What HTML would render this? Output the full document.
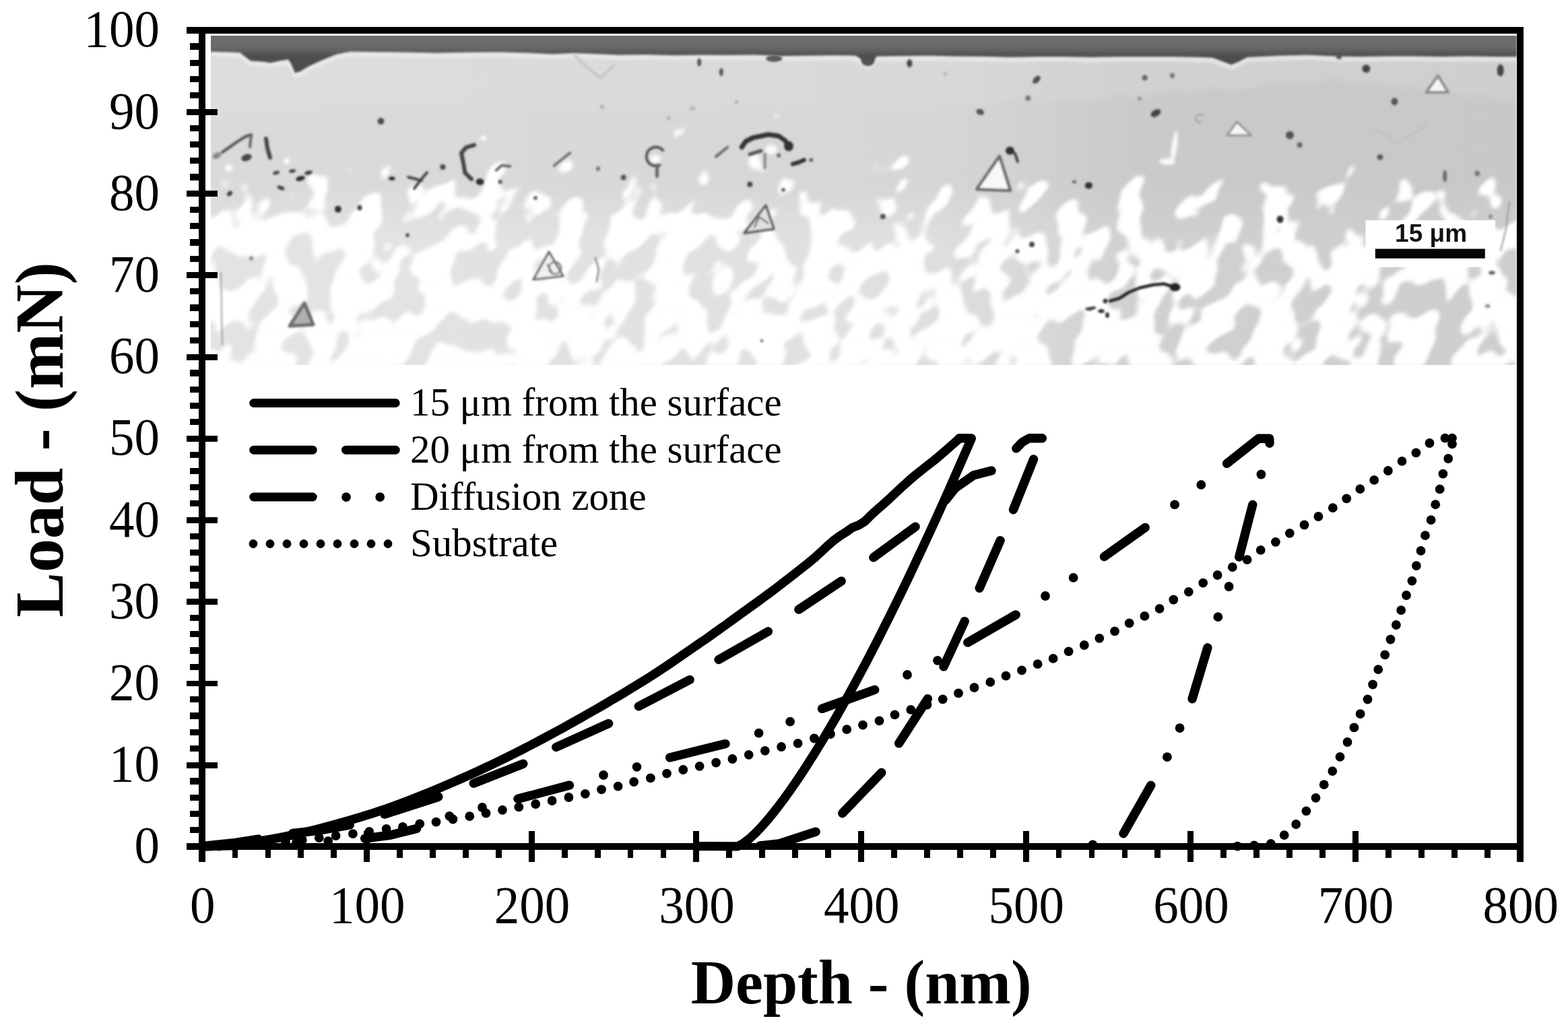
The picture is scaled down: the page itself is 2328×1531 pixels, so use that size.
<!DOCTYPE html>
<html lang="en"><head><meta charset="utf-8"><title>Load - Depth nanoindentation curves</title>
<style>html,body{margin:0;padding:0;background:#fff;}body{width:2328px;height:1531px;overflow:hidden;}svg{display:block;}text{font-family:"Liberation Serif","DejaVu Serif",serif;fill:#000;}</style>
</head><body>
<svg width="2328" height="1531" viewBox="0 0 2328 1531">
<rect x="0" y="0" width="2328" height="1531" fill="#fff"/>
<defs>
<clipPath id="mclip"><rect x="313.0" y="53.0" width="1938.5" height="489.0"/></clipPath>
<linearGradient id="mbias" gradientUnits="userSpaceOnUse" x1="400" y1="53.0" x2="390" y2="542.0"><stop offset="0" stop-color="#fff" stop-opacity="0.1"/><stop offset="0.3" stop-color="#fff" stop-opacity="0.16"/><stop offset="0.4" stop-color="#fff" stop-opacity="0.34"/><stop offset="0.5" stop-color="#fff" stop-opacity="0.48"/><stop offset="0.6" stop-color="#fff" stop-opacity="0.545"/><stop offset="1" stop-color="#fff" stop-opacity="0.565"/></linearGradient>
<filter id="mottle" filterUnits="userSpaceOnUse" x="308" y="51.0" width="2094" height="493.0" color-interpolation-filters="sRGB"><feTurbulence type="fractalNoise" baseFrequency="0.023 0.019" numOctaves="2" seed="5" result="t"/><feColorMatrix in="t" type="matrix" values="0 0 0 0 1  0 0 0 0 1  0 0 0 0 1  1 0 0 0 0" result="n"/><feComposite in="n" in2="SourceGraphic" operator="arithmetic" k1="0" k2="1" k3="1" k4="-0.5" result="sum"/><feComponentTransfer in="sum" result="mask"><feFuncA type="linear" slope="18" intercept="-8.5"/></feComponentTransfer><feGaussianBlur in="mask" stdDeviation="2.6"/></filter>
<linearGradient id="mbase" gradientUnits="userSpaceOnUse" x1="313.0" y1="0" x2="2251.5" y2="0"><stop offset="0" stop-color="#dddddd"/><stop offset="0.35" stop-color="#dadada"/><stop offset="0.56" stop-color="#d8d8d8"/><stop offset="0.70" stop-color="#d1d1d1"/><stop offset="0.85" stop-color="#d0d0d0"/><stop offset="1" stop-color="#cfcfcf"/></linearGradient>
<linearGradient id="mbase2" gradientUnits="userSpaceOnUse" x1="313.0" y1="0" x2="2251.5" y2="0"><stop offset="0" stop-color="#000" stop-opacity="0.010"/><stop offset="0.55" stop-color="#000" stop-opacity="0.008"/><stop offset="0.75" stop-color="#000" stop-opacity="0.036"/><stop offset="1" stop-color="#000" stop-opacity="0.036"/></linearGradient>
<linearGradient id="mlowx" gradientUnits="userSpaceOnUse" x1="313.0" y1="0" x2="2251.5" y2="0"><stop offset="0" stop-color="#fff" stop-opacity="0.17"/><stop offset="0.5" stop-color="#fff" stop-opacity="0.15"/><stop offset="0.72" stop-color="#fff" stop-opacity="0.0"/><stop offset="1" stop-color="#fff" stop-opacity="0"/></linearGradient>
<linearGradient id="mlowm" gradientUnits="userSpaceOnUse" x1="0" y1="53.0" x2="0" y2="542.0"><stop offset="0" stop-color="#000"/><stop offset="0.46" stop-color="#000"/><stop offset="0.62" stop-color="#fff"/><stop offset="1" stop-color="#fff"/></linearGradient>
<mask id="mlowmask" maskUnits="userSpaceOnUse" x="313.0" y="53.0" width="1938.5" height="489.0"><rect x="313.0" y="53.0" width="1938.5" height="489.0" fill="url(#mlowm)"/></mask>
<linearGradient id="mlow" gradientUnits="userSpaceOnUse" x1="0" y1="53.0" x2="0" y2="542.0"><stop offset="0" stop-color="#fff" stop-opacity="0"/><stop offset="0.45" stop-color="#fff" stop-opacity="0"/><stop offset="0.6" stop-color="#fff" stop-opacity="0.11"/><stop offset="1" stop-color="#fff" stop-opacity="0.12"/></linearGradient>
<linearGradient id="mband" gradientUnits="userSpaceOnUse" x1="0" y1="53" x2="0" y2="83"><stop offset="0" stop-color="#6e6e6e"/><stop offset="0.55" stop-color="#6a6a6a"/><stop offset="1" stop-color="#4e4e4e"/></linearGradient>
<filter id="mblur1" x="-5%" y="-5%" width="110%" height="110%"><feGaussianBlur stdDeviation="1.7"/></filter>
<filter id="mblur3" x="-5%" y="-5%" width="110%" height="110%"><feGaussianBlur stdDeviation="4.5"/></filter>
<filter id="mblur2" x="-5%" y="-5%" width="110%" height="110%"><feGaussianBlur stdDeviation="2.2"/></filter>
</defs>
<g id="micrograph" clip-path="url(#mclip)">
<rect x="313.0" y="53.0" width="1938.5" height="489.0" fill="url(#mbase)"/>
<g filter="url(#mblur3)"><path d="M308.0 547.0L308.0 166Q356.5 174.0 400.0 160.0Q450.0 169.0 500.0 156.0Q550.0 167.0 600.0 158.0Q650.0 167.0 700.0 152.0Q750.0 166.0 800.0 157.0Q850.0 171.0 900.0 162.0Q950.0 171.0 1000.0 160.0Q1050.0 169.0 1100.0 155.0Q1150.0 169.0 1200.0 160.0Q1250.0 169.0 1300.0 158.0Q1350.0 167.0 1400.0 156.0Q1450.0 165.0 1500.0 150.0Q1540.0 159.0 1580.0 146.0Q1620.0 155.0 1660.0 140.0Q1700.0 149.0 1740.0 134.0Q1770.0 143.0 1800.0 130.0Q1850.0 139.0 1900.0 120.0Q1940.0 129.0 1980.0 116.0Q2015.0 131.0 2050.0 122.0Q2075.0 137.0 2100.0 128.0Q2130.0 145.0 2160.0 136.0Q2180.0 149.0 2200.0 140.0Q2225.8 154.0 2251.5 145.0L2256.5 547.0Z" fill="url(#mbase2)"/></g>
<g filter="url(#mblur2)"><path d="M313.0 80.1L340.0 81.8L356.0 82.6L364.0 88.6L372.0 94.7L388.0 95.7L402.0 97.7L415.0 94.8L428.0 92.8L432.0 98.8L438.0 112.8L445.0 110.8L460.0 101.9L480.0 92.9L500.0 85.0L520.0 81.0L560.0 81.5L600.0 82.0L650.0 83.0L700.0 81.9L740.0 81.7L780.0 82.8L820.0 84.7L850.0 83.2L880.0 84.2L920.0 86.1L960.0 85.5L1000.0 86.6L1040.0 86.0L1080.0 86.3L1120.0 85.7L1160.0 87.6L1200.0 87.0L1240.0 86.5L1270.0 87.1L1280.0 93.1L1288.0 99.2L1296.0 95.2L1302.0 88.1L1340.0 87.5L1380.0 87.0L1420.0 88.0L1460.0 88.3L1500.0 89.3L1540.0 88.5L1580.0 88.5L1620.0 89.3L1660.0 88.5L1700.0 88.5L1740.0 88.5L1780.0 89.3L1800.0 90.1L1815.0 95.5L1828.0 100.5L1840.0 95.5L1852.0 89.3L1900.0 86.9L1940.0 86.1L1980.0 87.7L2020.0 88.5L2060.0 87.7L2100.0 87.7L2140.0 88.5L2180.0 87.7L2220.0 88.5L2251.5 88.5" fill="none" stroke="#f2f2f2" stroke-width="5" opacity="0.75"/></g>
<rect x="313.0" y="53.0" width="1938.5" height="489.0" fill="url(#mlow)"/>
<rect x="313.0" y="53.0" width="1938.5" height="489.0" fill="url(#mlowx)" mask="url(#mlowmask)"/>
<g transform="skewX(-15)"><rect x="308" y="51.0" width="2094" height="493.0" fill="url(#mbias)" filter="url(#mottle)"/></g>
<g filter="url(#mblur1)"><polygon points="308.0,48.0 308.0,76.5 340.0,77.3 356.0,78.1 364.0,84.1 372.0,90.2 388.0,91.2 402.0,93.2 415.0,90.3 428.0,88.3 432.0,94.3 438.0,108.3 445.0,106.3 460.0,97.4 480.0,88.4 500.0,80.5 520.0,76.5 560.0,77.0 600.0,77.5 650.0,78.5 700.0,77.4 740.0,77.2 780.0,78.3 820.0,80.2 850.0,78.7 880.0,79.7 920.0,81.6 960.0,81.0 1000.0,82.1 1040.0,81.5 1080.0,81.8 1120.0,81.2 1160.0,83.1 1200.0,82.5 1240.0,82.0 1270.0,82.6 1280.0,88.6 1288.0,94.7 1296.0,90.7 1302.0,83.6 1340.0,83.0 1380.0,82.5 1420.0,83.5 1460.0,83.8 1500.0,84.8 1540.0,84.0 1580.0,84.0 1620.0,84.8 1660.0,84.0 1700.0,84.0 1740.0,84.0 1780.0,84.8 1800.0,85.6 1815.0,91.0 1828.0,96.0 1840.0,91.0 1852.0,84.8 1900.0,82.4 1940.0,81.6 1980.0,83.2 2020.0,84.0 2060.0,83.2 2100.0,83.2 2140.0,84.0 2180.0,83.2 2220.0,84.0 2251.5,84.0 2256.5,84.5 2256.5,48.0" fill="url(#mband)"/></g>
<g filter="url(#mblur2)" fill="#fff" opacity="0.9">
<ellipse cx="339.5" cy="249.6" rx="6" ry="5" transform="rotate(0 339.5 249.6)"/>
<ellipse cx="425.4" cy="239.3" rx="4.5" ry="4.5" transform="rotate(0 425.4 239.3)"/>
<ellipse cx="717.8" cy="205" rx="5" ry="4" transform="rotate(0 717.8 205)"/>
<ellipse cx="973" cy="236" rx="8" ry="6" transform="rotate(0 973 236)"/>
<ellipse cx="1145" cy="222" rx="9" ry="7" transform="rotate(0 1145 222)"/>
<ellipse cx="1743.5" cy="218" rx="4" ry="24" transform="rotate(8 1743.5 218)"/>
<ellipse cx="1733" cy="240" rx="12" ry="5" transform="rotate(0 1733 240)"/>
</g>
<g filter="url(#mblur1)">
<polygon points="2134.9,112.5 2117.5,137.0 2150.0,137.0" fill="#f4f4f4" stroke="#8a8a8a" stroke-width="4" stroke-linejoin="round"/>
<polygon points="1836.3,181.0 1822.0,201.0 1857.5,201.0" fill="#f6f6f6" stroke="#9a9a9a" stroke-width="3.6" stroke-linejoin="round"/>
<polygon points="1484.0,232.0 1450.0,281.0 1500.0,283.0" fill="#f8f8f8" stroke="#6a6a6a" stroke-width="4.5" stroke-linejoin="round"/>
<polygon points="1137.0,305.0 1105.0,346.0 1149.0,340.0" fill="#e0e0e0" stroke="#555" stroke-width="3.4" stroke-linejoin="round"/>
<polygon points="815.0,374.0 792.0,415.0 836.0,410.0" fill="#f0f0f0" stroke="#666" stroke-width="3.2" stroke-linejoin="round"/>
<polygon points="452.0,450.0 430.0,484.0 465.0,482.0" fill="#b0b0b0" stroke="#6a6a6a" stroke-width="5" stroke-linejoin="round"/>
<path d="M1127 322L1120 338M1127 322L1141 332" stroke="#666" stroke-width="2.5" fill="none"/>
<path d="M812 392L820 405" stroke="#777" stroke-width="2.5" fill="none"/><circle cx="824" cy="398" r="9" fill="none" stroke="#777" stroke-width="2.5"/>
<circle cx="973.8" cy="232.4" r="14" fill="none" stroke="#555" stroke-width="4" stroke-dasharray="64.4 23.8" transform="rotate(60 973.8 232.4)"/>
<circle cx="1781.3" cy="175.7" r="6" fill="none" stroke="#aaa" stroke-width="3" stroke-dasharray="27.6 10.2" transform="rotate(60 1781.3 175.7)"/>
<path d="M330.0 226.0L350.0 212.0L364.0 203.0L373.0 200.0" fill="none" stroke="#555" stroke-width="4.2" stroke-linecap="round" stroke-linejoin="round"/>
<path d="M373.0 200.0L371.0 218.0" fill="none" stroke="#666" stroke-width="4" stroke-linecap="round" stroke-linejoin="round"/>
<path d="M395.0 206.0L397.0 220.0L401.0 234.0" fill="none" stroke="#444" stroke-width="6" stroke-linecap="round" stroke-linejoin="round"/>
<path d="M606.0 263.0L626.0 268.0" fill="none" stroke="#444" stroke-width="4" stroke-linecap="round" stroke-linejoin="round"/>
<path d="M634.0 256.0L624.0 268.0L615.0 280.0" fill="none" stroke="#444" stroke-width="4" stroke-linecap="round" stroke-linejoin="round"/>
<path d="M851.8 81.2L872.0 100.0L891.3 115.6" fill="none" stroke="#c2c2c2" stroke-width="3" stroke-linecap="round" stroke-linejoin="round"/>
<path d="M891.3 115.6L912.0 96.7" fill="none" stroke="#c4c4c4" stroke-width="3" stroke-linecap="round" stroke-linejoin="round"/>
<path d="M704.0 215.3L692.0 219.0L685.0 227.3L688.0 242.0L690.3 256.5L700.0 266.0" fill="none" stroke="#444" stroke-width="6" stroke-linecap="round" stroke-linejoin="round"/>
<path d="M736.7 253.0L745.0 245.5L757.3 247.0" fill="none" stroke="#666" stroke-width="4" stroke-linecap="round" stroke-linejoin="round"/>
<path d="M822.6 246.2L836.0 235.0L846.5 227.0" fill="none" stroke="#6a6a6a" stroke-width="3.5" stroke-linecap="round" stroke-linejoin="round"/>
<path d="M975.5 246.0L975.5 261.6" fill="none" stroke="#666" stroke-width="5" stroke-linecap="round" stroke-linejoin="round"/>
<path d="M1063.0 232.4L1080.0 218.7" fill="none" stroke="#666" stroke-width="4" stroke-linecap="round" stroke-linejoin="round"/>
<path d="M1101.2 218.7L1107.0 210.0L1118.0 204.5L1140.8 199.8L1156.0 202.0L1166.0 209.0L1171.7 218.7" fill="none" stroke="#333" stroke-width="7" stroke-linecap="round" stroke-linejoin="round"/>
<path d="M1113.0 229.0L1130.0 224.0" fill="none" stroke="#555" stroke-width="5" stroke-linecap="round" stroke-linejoin="round"/>
<path d="M1135.6 229.0L1135.6 249.6" fill="none" stroke="#888" stroke-width="4" stroke-linecap="round" stroke-linejoin="round"/>
<path d="M1176.8 243.6L1186.0 241.0L1194.0 237.6" fill="none" stroke="#333" stroke-width="6" stroke-linecap="round" stroke-linejoin="round"/>
<path d="M1499.5 223.8L1507.0 228.0L1511.0 240.0" fill="none" stroke="#444" stroke-width="4" stroke-linecap="round" stroke-linejoin="round"/>
<path d="M1613.6 458.8L1625.0 457.0" fill="none" stroke="#333" stroke-width="4" stroke-linecap="round" stroke-linejoin="round"/>
<path d="M1648.0 447.0L1662.0 443.0L1676.0 434.0L1692.0 427.5L1712.0 423.0L1728.0 421.5L1744.6 426.6" fill="none" stroke="#222" stroke-width="4.5" stroke-linecap="round" stroke-linejoin="round"/>
<path d="M328.0 405.0L329.0 460.0L330.0 512.5" fill="none" stroke="#8a8a8a" stroke-width="1.6" stroke-linecap="round" stroke-linejoin="round"/>
<path d="M884.0 383.0L889.0 400.0L886.0 418.0" fill="none" stroke="#9a9a9a" stroke-width="3" stroke-linecap="round" stroke-linejoin="round"/>
<path d="M2040.0 190.0L2075.0 212.0L2118.0 186.0" fill="none" stroke="#bcbcbc" stroke-width="2" stroke-linecap="round" stroke-linejoin="round"/>
<path d="M2241.0 300.0L2236.0 340.0L2228.0 372.0" fill="none" stroke="#999" stroke-width="2" stroke-linecap="round" stroke-linejoin="round"/>
<ellipse cx="565.5" cy="180" rx="5" ry="5" fill="#505050"/>
<ellipse cx="322" cy="231" rx="7" ry="4.5" fill="#8a8a8a" transform="rotate(-25 322 231)"/>
<ellipse cx="366" cy="234" rx="8" ry="5" fill="#4a4a4a" transform="rotate(-20 366 234)"/>
<ellipse cx="410" cy="256.5" rx="5" ry="2.6" fill="#444" transform="rotate(-15 410 256.5)"/>
<ellipse cx="434" cy="254" rx="5" ry="2.6" fill="#444" transform="rotate(-10 434 254)"/>
<ellipse cx="446" cy="265" rx="7" ry="3.6" fill="#333" transform="rotate(-15 446 265)"/>
<ellipse cx="458" cy="256.5" rx="6" ry="3" fill="#444" transform="rotate(-15 458 256.5)"/>
<ellipse cx="417" cy="279" rx="6" ry="3" fill="#444" transform="rotate(20 417 279)"/>
<ellipse cx="341" cy="287.4" rx="4.5" ry="3.2" fill="#404040" transform="rotate(-45 341 287.4)"/>
<ellipse cx="581.8" cy="265" rx="5" ry="3" fill="#333"/>
<ellipse cx="657.4" cy="248" rx="4" ry="4" fill="#444"/>
<ellipse cx="1038.2" cy="92.4" rx="3" ry="6" fill="#555"/>
<ellipse cx="1070.9" cy="107" rx="3" ry="6" fill="#555"/>
<ellipse cx="894" cy="158.6" rx="3" ry="3" fill="#b0b0b0"/>
<ellipse cx="1028" cy="161" rx="4" ry="3" fill="#b4b4b4"/>
<ellipse cx="992.7" cy="175.7" rx="3" ry="3" fill="#b4b4b4"/>
<ellipse cx="712.6" cy="270" rx="6" ry="5" fill="#333"/>
<ellipse cx="742.7" cy="270" rx="3" ry="3" fill="#555"/>
<ellipse cx="888" cy="250.5" rx="3" ry="3.5" fill="#777"/>
<ellipse cx="925.7" cy="263.4" rx="4" ry="4" fill="#555"/>
<ellipse cx="795" cy="294" rx="3" ry="3" fill="#666"/>
<ellipse cx="1149.3" cy="87" rx="12" ry="5" fill="#5a5a5a"/>
<ellipse cx="1288.5" cy="90" rx="10" ry="8" fill="#505050"/>
<ellipse cx="1350.4" cy="94.1" rx="4" ry="6" fill="#444"/>
<ellipse cx="1455.2" cy="166.3" rx="6" ry="4.2" fill="#555" transform="rotate(20 1455.2 166.3)"/>
<ellipse cx="1093.5" cy="151.7" rx="3" ry="3" fill="#b4b4b4"/>
<ellipse cx="1403.6" cy="109.6" rx="3" ry="3" fill="#b8b8b8"/>
<ellipse cx="1171" cy="217" rx="7" ry="7.5" fill="#333"/>
<ellipse cx="1156.2" cy="230.7" rx="3" ry="3" fill="#666"/>
<ellipse cx="1204.3" cy="237.6" rx="3" ry="3" fill="#666"/>
<ellipse cx="1113.3" cy="273.7" rx="4" ry="4" fill="#444"/>
<ellipse cx="1163" cy="282" rx="3" ry="3" fill="#666"/>
<ellipse cx="1539" cy="118.2" rx="7" ry="4.2" fill="#505050" transform="rotate(-45 1539 118.2)"/>
<ellipse cx="1526.2" cy="145.7" rx="4" ry="4" fill="#777"/>
<ellipse cx="1699.7" cy="115.6" rx="4" ry="4" fill="#666"/>
<ellipse cx="1740.4" cy="112.2" rx="3.4" ry="4" fill="#777"/>
<ellipse cx="1692" cy="146.5" rx="3" ry="3" fill="#9a9a9a"/>
<ellipse cx="1716" cy="168" rx="8" ry="5" fill="#444" transform="rotate(-30 1716 168)"/>
<ellipse cx="1499.5" cy="223.8" rx="6.5" ry="6" fill="#333"/>
<ellipse cx="1616.4" cy="275.4" rx="5.5" ry="5" fill="#333"/>
<ellipse cx="1595" cy="270" rx="3" ry="2.5" fill="#666"/>
<ellipse cx="2028.4" cy="101.9" rx="6" ry="6" fill="#444"/>
<ellipse cx="2227.7" cy="104.4" rx="5" ry="9" fill="#444"/>
<ellipse cx="2070.5" cy="150.8" rx="5" ry="5.5" fill="#555"/>
<ellipse cx="1915" cy="200.7" rx="6" ry="6" fill="#555"/>
<ellipse cx="1929.6" cy="215.3" rx="4" ry="4" fill="#666"/>
<ellipse cx="2049" cy="233.3" rx="4.5" ry="4" fill="#555"/>
<ellipse cx="2145.2" cy="261.6" rx="3" ry="9" fill="#6a6a6a"/>
<ellipse cx="2193.3" cy="257.4" rx="4" ry="4" fill="#777"/>
<ellipse cx="1988" cy="84" rx="4" ry="4" fill="#555"/>
<ellipse cx="501.9" cy="310.6" rx="5" ry="5" fill="#333"/>
<ellipse cx="534" cy="308.5" rx="3.5" ry="4" fill="#444"/>
<ellipse cx="605" cy="349.3" rx="3" ry="3" fill="#555"/>
<ellipse cx="373" cy="383.6" rx="3" ry="3" fill="#888"/>
<ellipse cx="1310.8" cy="321.4" rx="4" ry="4" fill="#555"/>
<ellipse cx="1532" cy="363" rx="4" ry="4" fill="#444"/>
<ellipse cx="1510.5" cy="373" rx="3" ry="3" fill="#555"/>
<ellipse cx="1900.6" cy="325.7" rx="5" ry="5.5" fill="#333"/>
<ellipse cx="1744.6" cy="426.6" rx="8" ry="6" fill="#222"/>
<ellipse cx="1635" cy="462" rx="5" ry="3" fill="#333"/>
<ellipse cx="1641" cy="447" rx="3.5" ry="3.5" fill="#333"/>
<ellipse cx="1644" cy="468" rx="3" ry="4" fill="#333"/>
<ellipse cx="1618" cy="459" rx="4" ry="2.5" fill="#444"/>
<ellipse cx="2212.9" cy="321.4" rx="3" ry="3" fill="#888"/>
<ellipse cx="2208.6" cy="454.5" rx="4" ry="3" fill="#999"/>
<ellipse cx="1131" cy="506" rx="2.2" ry="2.2" fill="#666"/>
<ellipse cx="2215" cy="405" rx="5" ry="3" fill="#666"/>
</g>
<g id="scalebar">
<rect x="2027.4" y="327" width="192.6" height="69.6" fill="#fff"/>
<rect x="2041.8" y="369.5" width="163" height="14.2" fill="#050505"/>
<text x="2124.6" y="359.4" text-anchor="middle" style="font-family:'Liberation Sans',Arial,sans-serif;font-weight:bold;font-size:37px;fill:#111">15 μm</text>
</g>
</g>
<g id="axes" fill="#000" stroke="none" shape-rendering="crispEdges">
<rect x="295.3" y="40.0" width="1966.6" height="9.8"/>
<rect x="295.3" y="1251.9" width="1966.6" height="9.8"/>
<rect x="295.3" y="40.0" width="9.8" height="1240.0"/>
<rect x="2252.1" y="40.0" width="9.8" height="1240.0"/>
<rect x="277" y="1251.9" width="30" height="9.8"/>
<rect x="282.3" y="1228.1" width="14" height="9.2"/>
<rect x="282.3" y="1203.8" width="14" height="9.2"/>
<rect x="282.3" y="1179.6" width="14" height="9.2"/>
<rect x="282.3" y="1155.3" width="14" height="9.2"/>
<rect x="277" y="1131.7" width="46" height="8.9"/>
<rect x="282.3" y="1106.8" width="14" height="9.2"/>
<rect x="282.3" y="1082.6" width="14" height="9.2"/>
<rect x="282.3" y="1058.4" width="14" height="9.2"/>
<rect x="282.3" y="1034.1" width="14" height="9.2"/>
<rect x="277" y="1010.5" width="46" height="8.9"/>
<rect x="282.3" y="985.6" width="14" height="9.2"/>
<rect x="282.3" y="961.4" width="14" height="9.2"/>
<rect x="282.3" y="937.2" width="14" height="9.2"/>
<rect x="282.3" y="912.9" width="14" height="9.2"/>
<rect x="277" y="889.3" width="46" height="8.9"/>
<rect x="282.3" y="864.4" width="14" height="9.2"/>
<rect x="282.3" y="840.2" width="14" height="9.2"/>
<rect x="282.3" y="815.9" width="14" height="9.2"/>
<rect x="282.3" y="791.7" width="14" height="9.2"/>
<rect x="277" y="768.1" width="46" height="8.9"/>
<rect x="282.3" y="743.2" width="14" height="9.2"/>
<rect x="282.3" y="719.0" width="14" height="9.2"/>
<rect x="282.3" y="694.7" width="14" height="9.2"/>
<rect x="282.3" y="670.5" width="14" height="9.2"/>
<rect x="277" y="646.9" width="46" height="8.9"/>
<rect x="282.3" y="622.0" width="14" height="9.2"/>
<rect x="282.3" y="597.8" width="14" height="9.2"/>
<rect x="282.3" y="573.5" width="14" height="9.2"/>
<rect x="282.3" y="549.3" width="14" height="9.2"/>
<rect x="277" y="525.6" width="46" height="8.9"/>
<rect x="282.3" y="500.8" width="14" height="9.2"/>
<rect x="282.3" y="476.6" width="14" height="9.2"/>
<rect x="282.3" y="452.3" width="14" height="9.2"/>
<rect x="282.3" y="428.1" width="14" height="9.2"/>
<rect x="277" y="404.4" width="46" height="8.9"/>
<rect x="282.3" y="379.6" width="14" height="9.2"/>
<rect x="282.3" y="355.3" width="14" height="9.2"/>
<rect x="282.3" y="331.1" width="14" height="9.2"/>
<rect x="282.3" y="306.9" width="14" height="9.2"/>
<rect x="277" y="283.2" width="46" height="8.9"/>
<rect x="282.3" y="258.4" width="14" height="9.2"/>
<rect x="282.3" y="234.1" width="14" height="9.2"/>
<rect x="282.3" y="209.9" width="14" height="9.2"/>
<rect x="282.3" y="185.7" width="14" height="9.2"/>
<rect x="277" y="162.0" width="46" height="8.9"/>
<rect x="282.3" y="137.2" width="14" height="9.2"/>
<rect x="282.3" y="112.9" width="14" height="9.2"/>
<rect x="282.3" y="88.7" width="14" height="9.2"/>
<rect x="282.3" y="64.4" width="14" height="9.2"/>
<rect x="277" y="40.0" width="30" height="9.8"/>
<rect x="344.5" y="1260" width="8.8" height="13.8"/>
<rect x="393.5" y="1260" width="8.8" height="13.8"/>
<rect x="442.4" y="1260" width="8.8" height="13.8"/>
<rect x="491.3" y="1260" width="8.8" height="13.8"/>
<rect x="540.1" y="1234" width="9" height="46"/>
<rect x="589.1" y="1260" width="8.8" height="13.8"/>
<rect x="638.1" y="1260" width="8.8" height="13.8"/>
<rect x="687.0" y="1260" width="8.8" height="13.8"/>
<rect x="735.9" y="1260" width="8.8" height="13.8"/>
<rect x="784.8" y="1234" width="9" height="46"/>
<rect x="833.8" y="1260" width="8.8" height="13.8"/>
<rect x="882.7" y="1260" width="8.8" height="13.8"/>
<rect x="931.6" y="1260" width="8.8" height="13.8"/>
<rect x="980.6" y="1260" width="8.8" height="13.8"/>
<rect x="1029.4" y="1234" width="9" height="46"/>
<rect x="1078.4" y="1260" width="8.8" height="13.8"/>
<rect x="1127.3" y="1260" width="8.8" height="13.8"/>
<rect x="1176.2" y="1260" width="8.8" height="13.8"/>
<rect x="1225.2" y="1260" width="8.8" height="13.8"/>
<rect x="1274.0" y="1234" width="9" height="46"/>
<rect x="1323.0" y="1260" width="8.8" height="13.8"/>
<rect x="1371.9" y="1260" width="8.8" height="13.8"/>
<rect x="1420.9" y="1260" width="8.8" height="13.8"/>
<rect x="1469.8" y="1260" width="8.8" height="13.8"/>
<rect x="1518.6" y="1234" width="9" height="46"/>
<rect x="1567.6" y="1260" width="8.8" height="13.8"/>
<rect x="1616.6" y="1260" width="8.8" height="13.8"/>
<rect x="1665.5" y="1260" width="8.8" height="13.8"/>
<rect x="1714.4" y="1260" width="8.8" height="13.8"/>
<rect x="1763.2" y="1234" width="9" height="46"/>
<rect x="1812.3" y="1260" width="8.8" height="13.8"/>
<rect x="1861.2" y="1260" width="8.8" height="13.8"/>
<rect x="1910.1" y="1260" width="8.8" height="13.8"/>
<rect x="1959.0" y="1260" width="8.8" height="13.8"/>
<rect x="2007.9" y="1234" width="9" height="46"/>
<rect x="2056.9" y="1260" width="8.8" height="13.8"/>
<rect x="2105.8" y="1260" width="8.8" height="13.8"/>
<rect x="2154.8" y="1260" width="8.8" height="13.8"/>
<rect x="2203.7" y="1260" width="8.8" height="13.8"/>
</g>
<g id="ticklabels" font-size="75px">
<text transform="translate(237,1281.4) scale(1,1.034)" text-anchor="end">0</text>
<text transform="translate(237,1160.2) scale(1,1.034)" text-anchor="end">10</text>
<text transform="translate(237,1039.0) scale(1,1.034)" text-anchor="end">20</text>
<text transform="translate(237,917.8) scale(1,1.034)" text-anchor="end">30</text>
<text transform="translate(237,796.6) scale(1,1.034)" text-anchor="end">40</text>
<text transform="translate(237,675.4) scale(1,1.034)" text-anchor="end">50</text>
<text transform="translate(237,554.1) scale(1,1.034)" text-anchor="end">60</text>
<text transform="translate(237,432.9) scale(1,1.034)" text-anchor="end">70</text>
<text transform="translate(237,311.7) scale(1,1.034)" text-anchor="end">80</text>
<text transform="translate(237,190.5) scale(1,1.034)" text-anchor="end">90</text>
<text transform="translate(237,69.3) scale(1,1.034)" text-anchor="end">100</text>
<text transform="translate(300.7,1369.9) scale(1,1.034)" text-anchor="middle">0</text>
<text transform="translate(545.3,1369.9) scale(1,1.034)" text-anchor="middle">100</text>
<text transform="translate(790.0,1369.9) scale(1,1.034)" text-anchor="middle">200</text>
<text transform="translate(1034.6,1369.9) scale(1,1.034)" text-anchor="middle">300</text>
<text transform="translate(1279.2,1369.9) scale(1,1.034)" text-anchor="middle">400</text>
<text transform="translate(1523.8,1369.9) scale(1,1.034)" text-anchor="middle">500</text>
<text transform="translate(1768.5,1369.9) scale(1,1.034)" text-anchor="middle">600</text>
<text transform="translate(2013.1,1369.9) scale(1,1.034)" text-anchor="middle">700</text>
<text transform="translate(2257.7,1369.9) scale(1,1.034)" text-anchor="middle">800</text>
</g>
<text id="xtitle" transform="translate(1278.6,1490) scale(1,1.012)" text-anchor="middle" font-size="92px" font-weight="bold">Depth - (nm)</text>
<text id="ytitle" transform="translate(93,653) rotate(-90) scale(1.01,1.03)" text-anchor="middle" font-size="99px" font-weight="bold">Load - (mN)</text>
<g id="legend" stroke="#000" stroke-width="13" stroke-linecap="round" fill="none">
<path d="M376.7 598.5H587.2"/>
<path d="M376.7 668.2H464.2M513.5 668.2H587.2"/>
<path d="M376.7 738H464.2"/>
</g>
<g id="legend-dots" fill="#000">
<circle cx="514" cy="738.1" r="6.9"/><circle cx="564.2" cy="738.1" r="6.9"/>
<circle cx="376.0" cy="807.5" r="6.4"/>
<circle cx="401.0" cy="807.5" r="6.4"/>
<circle cx="426.0" cy="807.5" r="6.4"/>
<circle cx="451.0" cy="807.5" r="6.4"/>
<circle cx="476.0" cy="807.5" r="6.4"/>
<circle cx="501.0" cy="807.5" r="6.4"/>
<circle cx="526.0" cy="807.5" r="6.4"/>
<circle cx="551.0" cy="807.5" r="6.4"/>
<circle cx="576.0" cy="807.5" r="6.4"/>
</g>
<g id="legendtext" font-size="58.9px">
<text x="609" y="617.3">15 μm from the surface</text>
<text x="609" y="686.9">20 μm from the surface</text>
<text x="609" y="756.5">Diffusion zone</text>
<text x="609" y="826.1">Substrate</text>
</g>
<g id="curves" fill="none" stroke="#000" stroke-width="13.4" stroke-linecap="round" stroke-linejoin="round">
<path id="c15" d="M300.0 1256.9L309.4 1256.7L318.7 1256.3L328.1 1255.6L337.5 1254.9L346.9 1254.0L356.2 1252.9L365.6 1251.8L375.0 1250.5L384.3 1249.1L393.7 1247.6L403.1 1246.0L412.5 1244.3L421.8 1242.5L431.2 1240.6L440.6 1238.6L449.9 1236.5L459.3 1234.2L468.7 1231.9L478.1 1229.5L487.4 1227.0L496.8 1224.4L506.2 1221.8L515.5 1219.1L524.9 1216.4L534.3 1213.6L543.7 1210.7L553.0 1207.8L562.4 1204.7L571.8 1201.5L581.1 1198.2L590.5 1194.8L599.9 1191.3L609.2 1187.7L618.6 1184.1L628.0 1180.3L637.4 1176.5L646.7 1172.7L656.1 1168.7L665.5 1164.7L674.8 1160.6L684.2 1156.5L693.6 1152.3L703.0 1148.1L712.3 1143.8L721.7 1139.4L731.1 1135.0L740.4 1130.4L749.8 1125.9L759.2 1121.2L768.6 1116.5L777.9 1111.7L787.3 1106.9L796.7 1102.0L806.0 1097.0L815.4 1092.0L824.8 1086.9L834.2 1081.8L843.5 1076.6L852.9 1071.4L862.3 1066.1L871.6 1060.8L881.0 1055.5L890.4 1050.1L899.8 1044.6L909.1 1039.1L918.5 1033.6L927.9 1027.9L937.2 1022.2L946.6 1016.5L956.0 1010.7L965.4 1004.8L974.7 998.8L984.1 992.7L993.5 986.4L1002.8 980.0L1012.2 973.5L1021.6 967.0L1031.0 960.5L1040.3 954.1L1049.7 947.7L1059.1 941.0L1068.4 934.3L1077.8 927.6L1087.2 920.8L1096.5 914.0L1105.9 907.3L1115.3 900.5L1124.7 893.7L1134.0 886.9L1143.4 880.0L1152.8 873.0L1162.1 865.8L1171.5 858.5L1180.9 851.2L1190.3 843.8L1199.6 836.5L1209.0 828.7L1218.4 820.1L1227.7 811.4L1237.1 803.2L1246.5 796.2L1255.9 790.2L1265.2 783.6L1274.6 780.0L1284.0 774.3L1293.3 764.9L1302.7 756.4L1312.1 748.2L1321.5 739.6L1330.8 730.9L1340.2 722.2L1349.6 713.7L1358.9 705.7L1368.3 698.1L1377.7 690.8L1387.1 683.5L1396.4 675.7L1405.8 667.5L1415.2 659.2L1424.5 650.9"/>
<path id="c15u" d="M1424.4 650.8L1442.4 650.9L1433.7 670.9L1425.0 690.8L1416.3 710.5L1407.7 730.1L1399.0 749.5L1390.3 768.7L1381.6 787.7L1372.9 806.5L1364.2 825.1L1355.6 843.5L1346.9 861.8L1338.2 879.8L1329.5 897.6L1320.8 915.2L1312.1 932.5L1303.5 949.7L1294.8 966.6L1286.1 983.3L1277.4 999.7L1268.7 1015.8L1260.0 1031.7L1251.3 1047.4L1242.7 1062.7L1234.0 1077.7L1225.3 1092.5L1216.6 1106.9L1207.9 1121.0L1199.2 1134.7L1190.6 1148.1L1181.9 1161.0L1173.2 1173.5L1164.5 1185.6L1155.8 1197.2L1147.1 1208.3L1138.5 1218.8L1129.8 1228.6L1121.1 1237.6L1112.4 1245.6L1103.7 1252.4L1095.0 1256.9L1060.0 1256.6L1038.7 1256.6"/>
<path id="c20" d="M306.7 1255.8L345.0 1252.0L383.4 1246.0M434.7 1237.3L476.0 1233.0L519.2 1224.9M570.9 1209.1L650.9 1183.3M703.2 1163.2L776.8 1134.2M825.7 1109.5L903.6 1074.4M948.3 1048.9L1024.1 1009.4M1067.1 979.5L1140.4 937.8M1185.9 905.1L1249.2 862.9M1296.8 827.8L1359.1 782.2M1404.1 742.7L1418.0 725.0L1445.5 705.7L1472.0 699.0M1508.8 665.9L1517.6 656.8L1528.1 650.8L1547.4 650.8M1534.5 681.9L1504.5 756.8M1485.1 802.6L1454.2 873.4M1432.2 922.6L1401.0 989.9M1377.4 1037.6L1334.6 1103.9M1308.8 1147.3L1250.7 1207.7M1211.1 1235.1L1156.0 1253.0L1128.5 1255.8"/>
<path id="cdz" d="M306.7 1256.6L350.0 1255.5L388.3 1253.8M541.6 1245.1L580.0 1240.0L618.5 1230.6M769.0 1186.3L845.5 1166.1M994.6 1124.9L1077.0 1104.6M1220.5 1052.4L1298.7 1024.3M1436.8 954.1L1508.2 912.9M1639.4 826.6L1700.2 783.4M1821.6 688.3L1868.5 651.2L1884.7 651.2L1885.0 658.3M1859.8 749.4L1839.7 827.1M1792.9 961.8L1770.1 1037.8M1708.7 1166.3L1668.0 1237.8"/>
</g>
<g id="dots" fill="#000">
<circle cx="440.0" cy="1251.0" r="6.9"/>
<circle cx="487.2" cy="1248.8" r="6.9"/>
<circle cx="667.3" cy="1211.8" r="6.9"/>
<circle cx="716.0" cy="1199.0" r="6.9"/>
<circle cx="896.0" cy="1151.0" r="6.9"/>
<circle cx="945.5" cy="1138.8" r="6.9"/>
<circle cx="1126.6" cy="1088.6" r="6.9"/>
<circle cx="1173.1" cy="1071.7" r="6.9"/>
<circle cx="1347.0" cy="1002.0" r="6.9"/>
<circle cx="1392.0" cy="980.8" r="6.9"/>
<circle cx="1552.0" cy="885.0" r="6.9"/>
<circle cx="1593.6" cy="857.9" r="6.9"/>
<circle cx="1744.1" cy="749.4" r="6.9"/>
<circle cx="1783.3" cy="719.9" r="6.9"/>
<circle cx="1872.4" cy="704.5" r="6.9"/>
<circle cx="1824.6" cy="871.0" r="6.9"/>
<circle cx="1808.4" cy="916.2" r="6.9"/>
<circle cx="1751.6" cy="1081.1" r="6.9"/>
<circle cx="1732.9" cy="1124.2" r="6.9"/>
<circle cx="1622.4" cy="1254.5" r="6.9"/>
<circle cx="325.0" cy="1256.5" r="6.9"/>
<circle cx="349.7" cy="1255.5" r="6.9"/>
<circle cx="374.4" cy="1254.0" r="6.9"/>
<circle cx="399.2" cy="1252.0" r="6.9"/>
<circle cx="424.0" cy="1249.8" r="6.9"/>
<circle cx="448.8" cy="1247.2" r="6.9"/>
<circle cx="473.8" cy="1244.1" r="6.9"/>
<circle cx="498.6" cy="1241.0" r="6.9"/>
<circle cx="523.9" cy="1238.1" r="6.9"/>
<circle cx="548.2" cy="1235.0" r="6.9"/>
<circle cx="573.6" cy="1231.0" r="6.9"/>
<circle cx="597.9" cy="1228.0" r="6.9"/>
<circle cx="623.2" cy="1223.4" r="6.9"/>
<circle cx="647.5" cy="1220.6" r="6.9"/>
<circle cx="672.4" cy="1216.5" r="6.9"/>
<circle cx="697.2" cy="1212.2" r="6.9"/>
<circle cx="721.5" cy="1207.5" r="6.9"/>
<circle cx="746.0" cy="1202.8" r="6.9"/>
<circle cx="770.3" cy="1198.4" r="6.9"/>
<circle cx="795.2" cy="1194.0" r="6.9"/>
<circle cx="819.6" cy="1189.0" r="6.9"/>
<circle cx="844.4" cy="1184.0" r="6.9"/>
<circle cx="868.9" cy="1178.8" r="6.9"/>
<circle cx="893.0" cy="1172.3" r="6.9"/>
<circle cx="917.6" cy="1167.6" r="6.9"/>
<circle cx="941.1" cy="1161.0" r="6.9"/>
<circle cx="965.9" cy="1155.3" r="6.9"/>
<circle cx="990.0" cy="1148.7" r="6.9"/>
<circle cx="1014.3" cy="1143.0" r="6.9"/>
<circle cx="1038.6" cy="1137.8" r="6.9"/>
<circle cx="1063.1" cy="1132.5" r="6.9"/>
<circle cx="1087.4" cy="1127.0" r="6.9"/>
<circle cx="1111.7" cy="1120.8" r="6.9"/>
<circle cx="1135.8" cy="1114.8" r="6.9"/>
<circle cx="1160.1" cy="1109.0" r="6.9"/>
<circle cx="1184.6" cy="1103.8" r="6.9"/>
<circle cx="1208.9" cy="1096.5" r="6.9"/>
<circle cx="1233.0" cy="1090.0" r="6.9"/>
<circle cx="1257.2" cy="1083.2" r="6.9"/>
<circle cx="1281.0" cy="1076.6" r="6.9"/>
<circle cx="1305.5" cy="1070.4" r="6.9"/>
<circle cx="1328.5" cy="1061.4" r="6.9"/>
<circle cx="1352.3" cy="1053.8" r="6.9"/>
<circle cx="1376.5" cy="1046.5" r="6.9"/>
<circle cx="1399.7" cy="1038.3" r="6.9"/>
<circle cx="1423.0" cy="1029.3" r="6.9"/>
<circle cx="1446.5" cy="1021.0" r="6.9"/>
<circle cx="1470.3" cy="1012.9" r="6.9"/>
<circle cx="1493.5" cy="1003.7" r="6.9"/>
<circle cx="1517.0" cy="995.4" r="6.9"/>
<circle cx="1540.6" cy="986.2" r="6.9"/>
<circle cx="1563.6" cy="977.9" r="6.9"/>
<circle cx="1586.6" cy="967.4" r="6.9"/>
<circle cx="1609.8" cy="958.0" r="6.9"/>
<circle cx="1632.3" cy="947.8" r="6.9"/>
<circle cx="1655.0" cy="937.4" r="6.9"/>
<circle cx="1676.7" cy="925.3" r="6.9"/>
<circle cx="1699.4" cy="914.9" r="6.9"/>
<circle cx="1721.6" cy="903.9" r="6.9"/>
<circle cx="1742.3" cy="890.5" r="6.9"/>
<circle cx="1764.8" cy="878.8" r="6.9"/>
<circle cx="1786.2" cy="865.7" r="6.9"/>
<circle cx="1807.6" cy="854.0" r="6.9"/>
<circle cx="1829.8" cy="842.2" r="6.9"/>
<circle cx="1851.6" cy="831.2" r="6.9"/>
<circle cx="1871.7" cy="816.9" r="6.9"/>
<circle cx="1893.9" cy="804.8" r="6.9"/>
<circle cx="1914.8" cy="791.8" r="6.9"/>
<circle cx="1936.5" cy="779.5" r="6.9"/>
<circle cx="1957.4" cy="767.0" r="6.9"/>
<circle cx="1978.8" cy="754.2" r="6.9"/>
<circle cx="1999.2" cy="740.3" r="6.9"/>
<circle cx="2019.3" cy="726.2" r="6.9"/>
<circle cx="2040.2" cy="712.9" r="6.9"/>
<circle cx="2060.9" cy="699.0" r="6.9"/>
<circle cx="2081.5" cy="684.9" r="6.9"/>
<circle cx="2102.4" cy="672.4" r="6.9"/>
<circle cx="2122.5" cy="658.0" r="6.9"/>
<circle cx="2145.5" cy="650.7" r="6.9"/>
<circle cx="2156.0" cy="650.7" r="6.9"/>
<circle cx="2156.0" cy="659.3" r="6.9"/>
<circle cx="2150.2" cy="681.0" r="6.9"/>
<circle cx="2142.4" cy="703.7" r="6.9"/>
<circle cx="2137.7" cy="726.4" r="6.9"/>
<circle cx="2131.2" cy="749.2" r="6.9"/>
<circle cx="2124.6" cy="772.2" r="6.9"/>
<circle cx="2116.0" cy="795.2" r="6.9"/>
<circle cx="2109.5" cy="817.9" r="6.9"/>
<circle cx="2102.9" cy="840.1" r="6.9"/>
<circle cx="2096.4" cy="862.6" r="6.9"/>
<circle cx="2088.0" cy="884.0" r="6.9"/>
<circle cx="2080.2" cy="906.2" r="6.9"/>
<circle cx="2072.9" cy="928.0" r="6.9"/>
<circle cx="2064.5" cy="949.5" r="6.9"/>
<circle cx="2056.2" cy="972.4" r="6.9"/>
<circle cx="2046.2" cy="994.1" r="6.9"/>
<circle cx="2038.1" cy="1016.5" r="6.9"/>
<circle cx="2030.5" cy="1038.5" r="6.9"/>
<circle cx="2019.6" cy="1060.2" r="6.9"/>
<circle cx="2010.4" cy="1080.3" r="6.9"/>
<circle cx="2000.5" cy="1102.0" r="6.9"/>
<circle cx="1989.5" cy="1123.9" r="6.9"/>
<circle cx="1978.3" cy="1145.1" r="6.9"/>
<circle cx="1965.7" cy="1165.2" r="6.9"/>
<circle cx="1953.5" cy="1184.8" r="6.9"/>
<circle cx="1939.4" cy="1204.4" r="6.9"/>
<circle cx="1924.2" cy="1224.0" r="6.9"/>
<circle cx="1906.7" cy="1240.2" r="6.9"/>
<circle cx="1886.8" cy="1252.8" r="6.9"/>
<circle cx="1862.0" cy="1255.4" r="6.9"/>
<circle cx="1837.2" cy="1256.7" r="6.9"/>
</g>
</svg>
</body></html>
